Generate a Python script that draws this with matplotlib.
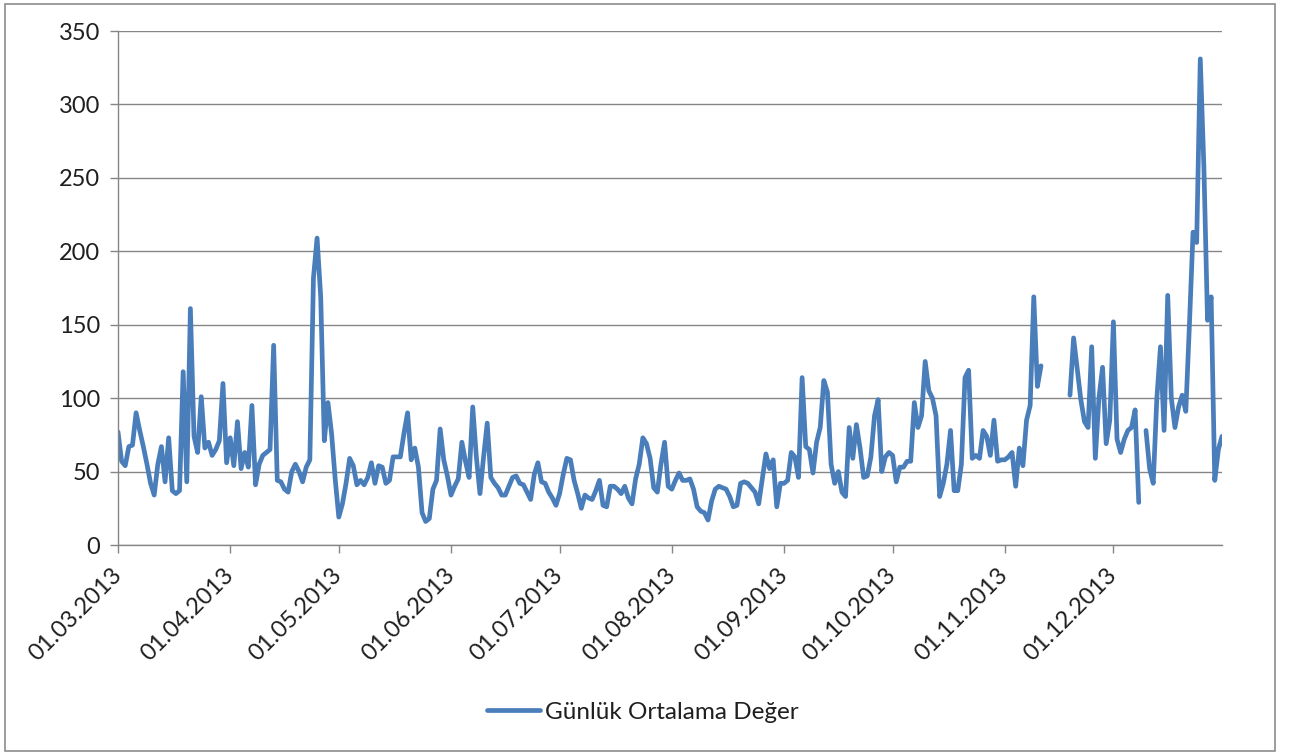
import numpy as np
import pandas as pd
import matplotlib
matplotlib.use("Agg")
import matplotlib.pyplot as plt
import matplotlib.dates as mdates
from matplotlib.patches import Rectangle

nan = np.nan

# Daily mean values, 01.03.2013 - 31.12.2013 (NaN = no measurement)
mar = [77, 57, 54, 67, 68, 90, 78, 67, 55, 42, 34, 55, 67, 43, 73, 37, 35, 37, 118, 43,
       161, 74, 63, 101, 66, 70, 61, 65, 71, 110, 56]
apr = [73, 54, 84, 52, 63, 53, 95, 41, 55, 61, 63, 65, 136, 44, 43, 38, 36, 50, 55, 50,
       43, 53, 58, 182, 209, 169, 71, 97, 76, 45]
may = [19, 28, 42, 59, 54, 41, 44, 41, 46, 56, 42, 54, 53, 42, 44, 60, 60, 60, 76, 90,
       58, 66, 53, 22, 16, 18, 38, 44, 79, 58, 47]
jun = [34, 40, 45, 70, 57, 46, 94, 60, 35, 60, 83, 46, 42, 39, 34, 34, 40, 46, 47, 42,
       41, 36, 31, 48, 56, 43, 42, 36, 32, 27]
jul = [35, 48, 59, 58, 44, 35, 25, 34, 32, 31, 37, 44, 27, 26, 40, 40, 38, 35, 40, 32,
       28, 45, 55, 73, 69, 59, 39, 36, 55, 70, 40]
aug = [38, 44, 49, 44, 44, 45, 38, 26, 23, 22, 17, 30, 38, 40, 39, 38, 33, 26, 27, 42,
       43, 42, 39, 36, 28, 45, 62, 52, 58, 26, 42]
sep = [42, 44, 63, 60, 46, 114, 67, 65, 49, 70, 80, 112, 104, 55, 42, 50, 36, 33, 80, 59,
       82, 66, 46, 47, 60, 88, 99, 50, 60, 63]
oct_ = [61, 43, 53, 53, 57, 57, 97, 80, 88, 125, 105, 100, 88, 33, 42, 55, 78, 37, 37, 55,
        114, 119, 59, 61, 59, 78, 74, 61, 85, 57, 58]
nov = [58, 60, 63, 40, 66, 54, 85, 95, 169, 108, 122, nan, nan, nan, nan, nan, nan, nan,
       102, 141, 120, 99, 84, 80, 135, 59, 100, 121, 69, 85]
dec = [152, 72, 63, 72, 78, 80, 92, 29, nan, 78, 52, 42, 100, 135, 78, 170, 100, 80, 94, 102,
       91, 150, 213, 206, 331, 257, 153, 169, 44, 65, 74]

values = mar + apr + may + jun + jul + aug + sep + oct_ + nov + dec
dates = pd.date_range("2013-03-01", "2013-12-31", freq="D")
series_label = "Günlük Ortalama Değer"
y_ticks = [0, 50, 100, 150, 200, 250, 300, 350]
month_ticks = pd.date_range("2013-03-01", "2013-12-01", freq="MS")

FONT = ["Lato", "DejaVu Sans"]
LINE_COLOR = "#4A7EBB"
GRID_COLOR = "#868686"
TEXT_COLOR = "#1f1f1f"
FS = 17

W, H = 1291, 755
fig = plt.figure(figsize=(W / 100, H / 100), dpi=100)
fig.patch.set_facecolor("white")

# outer chart frame
fig.patches.append(Rectangle((5 / W, 4 / H), (1275 - 5) / W, (751 - 4) / H,
                             transform=fig.transFigure, fill=False,
                             edgecolor="#8c8c8c", linewidth=1.2))

ax = fig.add_axes([118 / W, 1 - 545 / H, (1222 - 118) / W, (545 - 31) / H])
ax.plot(dates, values, color=LINE_COLOR, linewidth=3.4, solid_joinstyle="round",
        solid_capstyle="round", label=series_label)

ax.set_ylim(0, 350)
ax.set_yticks(y_ticks)
ax.set_xlim(dates[0], dates[-1])
ax.set_xticks(month_ticks)
ax.xaxis.set_major_formatter(mdates.DateFormatter("%d.%m.%Y"))

ax.yaxis.grid(True, color=GRID_COLOR, linewidth=1.0)
ax.set_axisbelow(True)
for side in ("top", "right"):
    ax.spines[side].set_visible(False)
for side in ("left", "bottom"):
    ax.spines[side].set_color(GRID_COLOR)
    ax.spines[side].set_linewidth(1.0)

ax.tick_params(axis="both", direction="out", length=6, width=1.0, color=GRID_COLOR,
               labelcolor=TEXT_COLOR)
ax.tick_params(axis="y", pad=7)
for lab in ax.get_yticklabels():
    lab.set_fontfamily(FONT)
    lab.set_fontsize(FS)
for lab in ax.get_xticklabels():
    lab.set_fontfamily(FONT)
    lab.set_fontsize(FS)
    lab.set_rotation(45)
    lab.set_ha("right")
    lab.set_va("center")
    lab.set_rotation_mode("anchor")
ax.tick_params(axis="x", pad=13)

leg = fig.legend(loc="center", bbox_to_anchor=(643 / W, 1 - 712 / H), frameon=False,
                 prop={"family": FONT, "size": 17.5}, handlelength=2.2,
                 handletextpad=0.2)
for t in leg.get_texts():
    t.set_color(TEXT_COLOR)

fig.savefig("out.png", dpi=100, facecolor="white")
